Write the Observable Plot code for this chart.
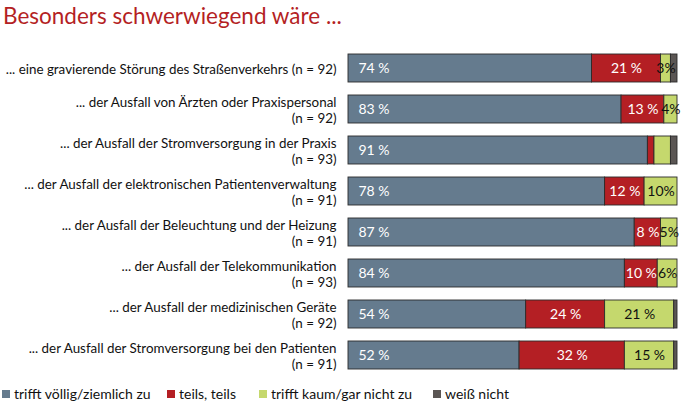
<!DOCTYPE html>
<html><head><meta charset="utf-8">
<script src="https://cdn.jsdelivr.net/npm/d3@7"></script>
<script src="https://cdn.jsdelivr.net/npm/@observablehq/plot@0.6"></script>
<style>
body{margin:0;background:#fff;font-family:"Lato",sans-serif;}
#title{position:absolute;left:3px;top:2px;font-size:22.5px;color:#b41f24;font-family:"Lato","Open Sans",sans-serif;white-space:nowrap;}
#chart{position:absolute;left:0;top:36px;}
#legend{position:absolute;left:2px;top:385px;font-size:14px;color:#111;white-space:nowrap;}
#legend span.item{position:absolute;top:0;white-space:nowrap;}
#legend i{display:inline-block;width:8px;height:8px;margin-right:4px;vertical-align:1px;}
</style></head><body>
<div id="title">Besonders schwerwiegend wäre ...</div>
<div id="chart"></div>
<div id="legend"></div>
<script>
const categories = [
  "... eine gravierende Störung des Straßenverkehrs (n = 92)",
  "... der Ausfall von Ärzten oder Praxispersonal\n(n = 92)",
  "... der Ausfall der Stromversorgung in der Praxis\n(n = 93)",
  "... der Ausfall der elektronischen Patientenverwaltung\n(n = 91)",
  "... der Ausfall der Beleuchtung und der Heizung\n(n = 91)",
  "... der Ausfall der Telekommunikation\n(n = 93)",
  "... der Ausfall der medizinischen Geräte\n(n = 92)",
  "... der Ausfall der Stromversorgung bei den Patienten\n(n = 91)"
];
const seriesNames = ["trifft völlig/ziemlich zu", "teils, teils", "trifft kaum/gar nicht zu", "weiß nicht"];
const seriesColors = ["#657b8e", "#b41f24", "#c5d86d", "#5b5654"];
const agree    = [74, 83, 91, 78, 87, 84, 54, 52];
const partly   = [21, 13,  2, 12,  8, 10, 24, 32];
const disagree = [ 3,  4,  5, 10,  5,  6, 21, 15];
const dontKnow = [ 2,  0,  2,  0,  0,  0,  1,  1];
const agreeLabels    = ["74 %", "83 %", "91 %", "78 %", "87 %", "84 %", "54 %", "52 %"];
const partlyLabels   = ["21 %", "13 %", "", "12 %", "8 %", "10 %", "24 %", "32 %"];
const disagreeLabels = ["3%", "4%", "", "10%", "5%", "6%", "21 %", "15 %"];

const seriesValues = [agree, partly, disagree, dontKnow];
const seriesLabels = [agreeLabels, partlyLabels, disagreeLabels, categories.map(() => "")];
const rows = [];
categories.forEach((c, i) => {
  let x1 = 0;
  seriesValues.forEach((vals, s) => {
    const v = vals[i];
    if (v > 0) rows.push({cat: c, series: seriesNames[s], s, x1, x2: x1 + v, label: seriesLabels[s][i]});
    x1 += v;
  });
});

const plot = Plot.plot({
  width: 692,
  height: 350,
  marginLeft: 348,
  marginRight: 15,
  marginTop: 4,
  marginBottom: 3.2,
  x: {domain: [0, 100], axis: null},
  y: {domain: categories, padding: 0.32, label: null},
  color: {domain: seriesNames, range: seriesColors},
  style: {fontFamily: "Lato, sans-serif", fontSize: "13px", color: "#111"},
  marks: [
    Plot.barX(rows, {y: "cat", x1: "x1", x2: "x2", fill: "series", stroke: "#2b2b2b", strokeWidth: 0.9}),
    Plot.text(rows.filter(d => d.s === 0), {y: "cat", x: "x1", text: "label", textAnchor: "start", dx: 10, fill: "white", fontSize: 14}),
    Plot.text(rows.filter(d => d.s === 1 && d.label), {y: "cat", x: d => (d.x1 + d.x2) / 2, text: "label", fill: "white", fontSize: 14}),
    Plot.text(rows.filter(d => d.s === 2 && d.label), {y: "cat", x: d => (d.x1 + d.x2) / 2, text: "label", fill: "#111", fontSize: 14}),
    Plot.axisY({tickSize: 0, tickPadding: 12, fontSize: 13.4, lineHeight: 1.2})
  ]
});
document.getElementById("chart").appendChild(plot);

const legendX = [0, 165, 257, 431];
const legend = document.getElementById("legend");
seriesNames.forEach((n, i) => {
  const sp = document.createElement("span");
  sp.className = "item";
  sp.style.left = legendX[i] + "px";
  sp.innerHTML = `<i style="background:${seriesColors[i]}"></i>${n}`;
  legend.appendChild(sp);
});
</script>
</body></html>
